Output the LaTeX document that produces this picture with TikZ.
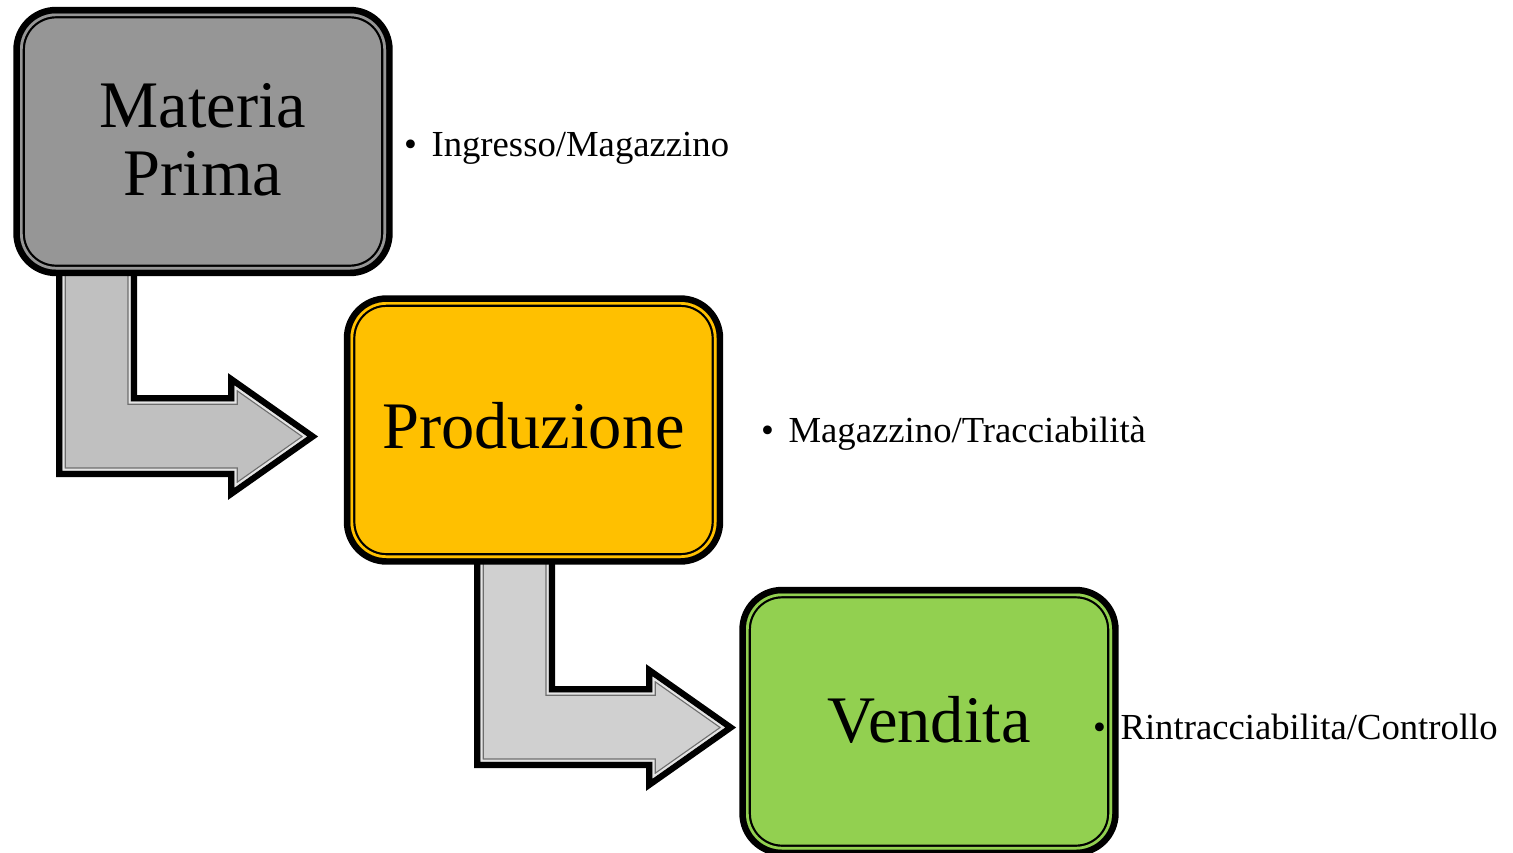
\documentclass[tikz,border=0pt]{standalone}
\usepackage{fontspec}
\setmainfont{Liberation Serif}
\usetikzlibrary{calc}

\definecolor{rawgray}{RGB}{150,150,150}
\definecolor{prodyellow}{RGB}{255,192,0}
\definecolor{salegreen}{RGB}{146,208,80}
\definecolor{arrowfillA}{RGB}{192,192,192}
\definecolor{arrowfillB}{RGB}{208,208,208}
\definecolor{arrowrim}{RGB}{110,110,110}

% outline of the bent block arrow (inner edge of its black rim)
\def\arrowshape{(6.5,0) -- (6.5,202.5) -- (178.5,202.5) -- (178.5,219.4)
  -- (250.8,168.5) -- (178.5,117.6) -- (178.5,133.5) -- (74.5,133.5)
  -- (74.5,0) -- cycle}

% bent arrow placed with its top-left corner at (#1,#2), filled with #3
\newcommand{\bentarrow}[3]{%
  \begin{scope}[shift={(#1,#2)}]
    \draw[line width=13pt, line join=miter] \arrowshape;
    \fill[#3] \arrowshape;
    \begin{scope}
      \clip \arrowshape;
      \draw[arrowrim, line width=6.5pt] \arrowshape;
      \draw[white!90!black, line width=4pt] \arrowshape;
    \end{scope}
  \end{scope}}

\tikzset{
  stagebox/.style={
    rectangle, rounded corners=36pt, inner sep=0pt,
    minimum width=366pt, minimum height=256pt,
    fill=#1,
    preaction={draw=black, line width=13.4pt},
    path picture={
      \draw[black, line width=9.8pt, rounded corners=36pt]
        (path picture bounding box.south west) rectangle (path picture bounding box.north east);
      \draw[#1, line width=5.4pt, rounded corners=36pt]
        (path picture bounding box.south west) rectangle (path picture bounding box.north east);
    }
  },
  stagetext/.style={anchor=base, inner sep=0pt, font=\fontsize{66.5}{68}\selectfont},
  bullettext/.style={anchor=base west, inner sep=0pt, font=\fontsize{36.7}{40}\selectfont}
}

\begin{document}
\begin{tikzpicture}[x=1pt, y=-1pt]
  \useasboundingbox (0,0) rectangle (1513,852);

  % connecting block arrows (under the boxes)
  \bentarrow{56}{268}{arrowfillA}
  \bentarrow{474}{559}{arrowfillB}

  % stage boxes
  \node[stagebox=rawgray]    (raw)  at (203,141.5) {};
  \node[stagebox=prodyellow] (prod) at (533.5,430) {};
  \node[stagebox=salegreen]  (sale) at (929,721.5) {};

  % box titles
  \node[stagetext] (rawA) at (203,127) {Materia};
  \node[stagetext] (rawB) at (203,195) {Prima};
  \node[stagetext] (prodT) at (533.5,448) {Produzione};
  \node[stagetext] (saleT) at (929,742) {Vendita};

  % side notes
  \node[bullettext] (noteA) at (404,156.5) {\textbullet\hspace{14.5pt}Ingresso/Magazzino};
  \node[bullettext] (noteB) at (761,442) {\textbullet\hspace{14.5pt}Magazzino/Tracciabilità};
  \node[bullettext] (noteC) at (1093,739) {\textbullet\hspace{14.5pt}Rintracciabilita/Controllo};
\end{tikzpicture}
\end{document}
